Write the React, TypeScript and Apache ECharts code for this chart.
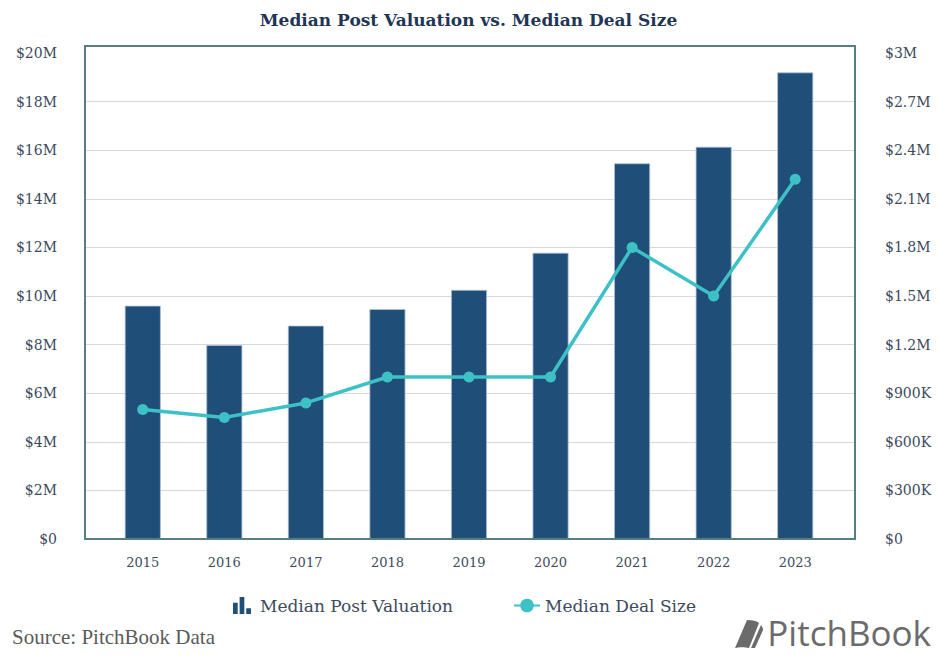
import React, { useEffect, useRef } from "react";
import * as echarts from "echarts";

const years = ["2015", "2016", "2017", "2018", "2019", "2020", "2021", "2022", "2023"];
const postValuation = [9.6e6, 7.98e6, 8.78e6, 9.46e6, 10.25e6, 11.78e6, 15.46e6, 16.14e6, 19.2e6];
const dealSize = [0.8e6, 0.75e6, 0.84e6, 1.0e6, 1.0e6, 1.0e6, 1.8e6, 1.5e6, 2.22e6];
const seriesNames = ["Median Post Valuation", "Median Deal Size"];
const titleText = "Median Post Valuation vs. Median Deal Size";
const sourceText = "Source: PitchBook Data";
const brandText = "PitchBook";

const SERIF = "DejaVu Serif";
const LABEL = "#3d4a5c";

const fmtLeft = (v: number) => (v === 0 ? "$0" : `$${parseFloat((v / 1e6).toFixed(1))}M`);
const fmtRight = (v: number) =>
  v === 0 ? "$0" : v >= 1e6 ? `$${parseFloat((v / 1e6).toFixed(1))}M` : `$${Math.round(v / 1e3)}K`;

const logoPath =
  "M14,0 C20,0 24,1 26,3 L16,28 C12,27 6,27 2,28 Z M28,5 C29,6 30,8 30,10 L22,28 L18,28 Z";

export default function App() {
  const ref = useRef<HTMLDivElement>(null);
  useEffect(() => {
    if (!ref.current) return;
    document.body.style.margin = "0";
    try {
      echarts.graphic.registerShape("logo", echarts.graphic.extendPath(logoPath, {}));
    } catch (e) {}
    const chart = echarts.init(ref.current, null, { renderer: "svg" });
    const gridColors = Array.from({ length: 11 }, (_, i) => (i === 10 ? "transparent" : "#d9d9d9"));
    chart.setOption({
      animation: false,
      backgroundColor: "#ffffff",
      title: {
        text: titleText,
        left: "center",
        top: 6,
        textStyle: { fontFamily: SERIF, fontSize: 17, fontWeight: "bold", color: "#1f3656" },
      },
      legend: {
        left: 228,
        top: 592,
        itemGap: 60,
        itemWidth: 26,
        itemHeight: 17,
        textStyle: { fontFamily: SERIF, fontSize: 17, color: LABEL },
        data: [
          {
            name: seriesNames[0],
            icon: "path://M0,6h5v12h-5z M7,0h5v18h-5z M14,12h5v6h-5z",
            itemStyle: { color: "#1f4e79", borderWidth: 0 },
          },
          { name: seriesNames[1] },
        ],
      },
      grid: [
        { left: 85, right: 82, top: 53, bottom: 116 },
        { left: 102, right: 101, top: 53, bottom: 116 },
      ],
      xAxis: [
        { type: "category", gridIndex: 0, data: years, show: false },
        {
          type: "category",
          gridIndex: 1,
          data: years,
          axisLine: { show: false },
          axisTick: { show: false },
          axisLabel: { margin: 17, fontFamily: SERIF, fontSize: 13, color: LABEL },
        },
      ],
      yAxis: [
        {
          type: "value",
          gridIndex: 0,
          position: "left",
          min: 0,
          max: 20e6,
          interval: 2e6,
          axisLine: { show: false },
          axisTick: { show: false },
          axisLabel: { margin: 28, formatter: fmtLeft, fontFamily: SERIF, fontSize: 14, color: LABEL },
          splitLine: { show: true, lineStyle: { color: gridColors, width: 1 } },
        },
        {
          type: "value",
          gridIndex: 0,
          position: "right",
          min: 0,
          max: 3e6,
          interval: 3e5,
          axisLine: { show: false },
          axisTick: { show: false },
          axisLabel: { margin: 30, formatter: fmtRight, fontFamily: SERIF, fontSize: 14, color: LABEL },
          splitLine: { show: false },
        },
        { type: "value", gridIndex: 1, position: "left", min: 0, max: 20e6, show: false, splitLine: { show: false } },
        { type: "value", gridIndex: 1, position: "right", min: 0, max: 3e6, show: false, splitLine: { show: false } },
      ],
      series: [
        {
          name: seriesNames[0],
          type: "bar",
          xAxisIndex: 1,
          yAxisIndex: 2,
          data: postValuation,
          barWidth: 36,
          itemStyle: { color: "#1f4e79", borderColor: "#aebfd3", borderWidth: 0.8 },
          z: 2,
        },
        {
          name: seriesNames[1],
          type: "line",
          xAxisIndex: 1,
          yAxisIndex: 3,
          data: dealSize,
          symbol: "circle",
          symbolSize: 11,
          lineStyle: { color: "#3ec1c6", width: 3.5 },
          itemStyle: { color: "#3ec1c6" },
          z: 3,
        },
      ],
      graphic: [
        {
          type: "rect",
          shape: { x: 85, y: 46, width: 770, height: 493 },
          style: { fill: "none", stroke: "#577f80", lineWidth: 2 },
          z: 10,
          silent: true,
        },
        {
          type: "text",
          x: 12,
          y: 637,
          style: {
            text: sourceText,
            font: "21px 'Liberation Serif'",
            fill: "#5a5a5a",
            verticalAlign: "middle",
            align: "left",
          },
        },
        {
          type: "logo",
          x: 733,
          y: 620,
          scaleX: 1,
          scaleY: 1,
          style: { fill: "#6b6b6b" },
        },
        {
          type: "text",
          x: 931,
          y: 650,
          style: {
            text: brandText,
            font: "35px 'Open Sans'",
            fill: "#6b6b6b",
            verticalAlign: "bottom",
            align: "right",
          },
        },
      ],
    });
    return () => chart.dispose();
  }, []);
  return <div ref={ref} style={{ width: 937, height: 655 }} />;
}
